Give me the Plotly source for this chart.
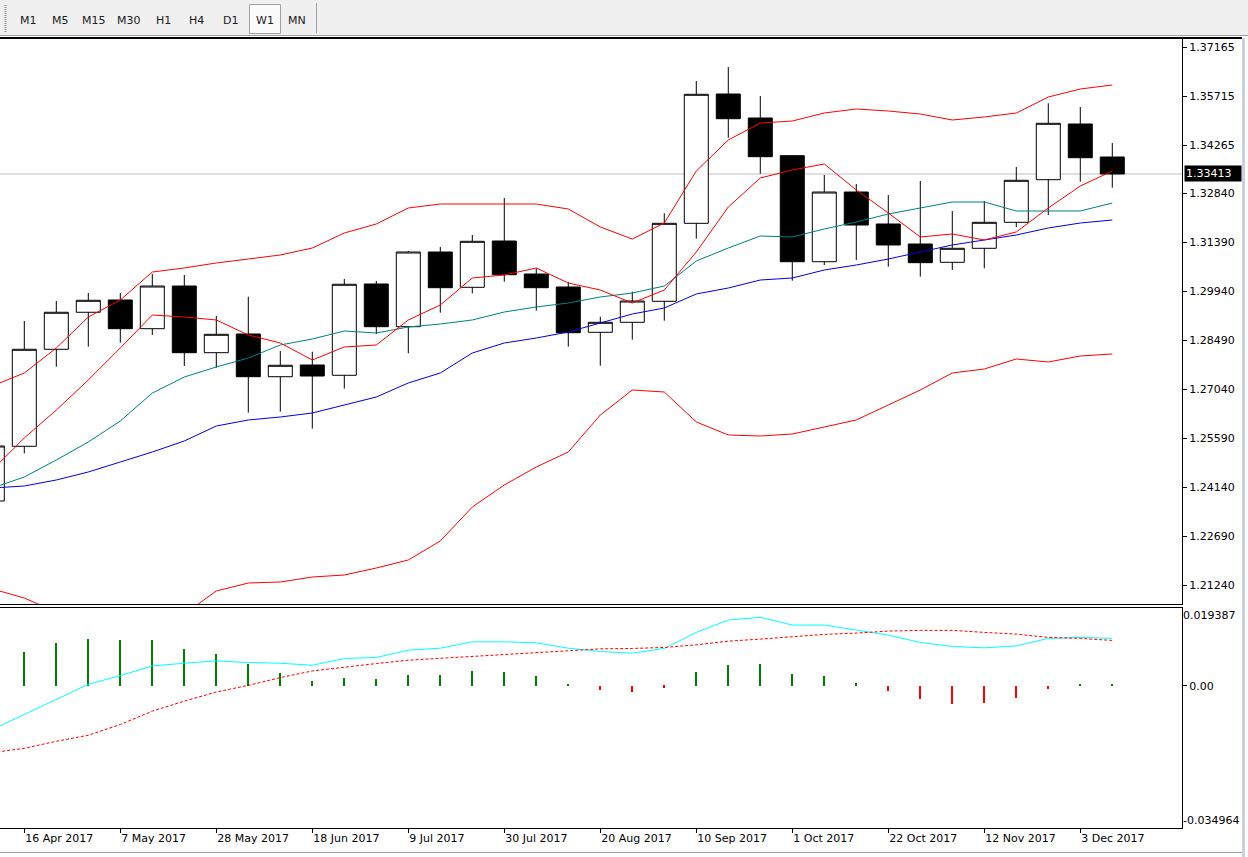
import plotly.graph_objects as go
import pandas as pd

# ---------------- data (weekly bars, 9 Apr 2017 .. 10 Dec 2017) ----------------
dates = ["2017-04-09", "2017-04-16", "2017-04-23", "2017-04-30", "2017-05-07", "2017-05-14",
         "2017-05-21", "2017-05-28", "2017-06-04", "2017-06-11", "2017-06-18", "2017-06-25",
         "2017-07-02", "2017-07-09", "2017-07-16", "2017-07-23", "2017-07-30", "2017-08-06",
         "2017-08-13", "2017-08-20", "2017-08-27", "2017-09-03", "2017-09-10", "2017-09-17",
         "2017-09-24", "2017-10-01", "2017-10-08", "2017-10-15", "2017-10-22", "2017-10-29",
         "2017-11-05", "2017-11-12", "2017-11-19", "2017-11-26", "2017-12-03", "2017-12-10"]

open_ = [1.23728, 1.25348, 1.28221, 1.29317, 1.29681, 1.28831, 1.30095, 1.28120, 1.28674, 1.27409,
         1.27756, 1.27451, 1.30155, 1.28890, 1.31102, 1.30057, 1.31428, 1.30451, 1.30066, 1.28724,
         1.29020, 1.29642, 1.31952, 1.35782, 1.35071, 1.33955, 1.30815, 1.32879, 1.31932, 1.31339,
         1.30797, 1.31212, 1.31982, 1.33244, 1.34893, 1.33916]
high = [1.25534, 1.29059, 1.29651, 1.29888, 1.29888, 1.30451, 1.30421, 1.29207, 1.29779, 1.28170,
        1.28150, 1.30303, 1.30244, 1.31132, 1.31251, 1.31606, 1.32702, 1.30620, 1.30214, 1.29186,
        1.29927, 1.32249, 1.36167, 1.36582, 1.35723, 1.33975, 1.33383, 1.33116, 1.32791, 1.33205,
        1.32317, 1.32613, 1.33620, 1.35507, 1.35397, 1.34331]
low = [1.23609, 1.25141, 1.27705, 1.28298, 1.28416, 1.28644, 1.27726, 1.27676, 1.26343, 1.26373,
       1.25869, 1.27054, 1.28674, 1.28102, 1.29305, 1.29879, 1.30223, 1.29364, 1.28298, 1.27735,
       1.28505, 1.29068, 1.31496, 1.34488, 1.33421, 1.30252, 1.30717, 1.30866, 1.30667, 1.30371,
       1.30569, 1.30620, 1.31843, 1.32198, 1.33185, 1.33007]
close = [1.25357, 1.28221, 1.29317, 1.29672, 1.28831, 1.30095, 1.28120, 1.28665, 1.27409, 1.27747,
         1.27430, 1.30146, 1.28890, 1.31102, 1.30045, 1.31419, 1.30430, 1.30045, 1.28712, 1.29020,
         1.29651, 1.31952, 1.35773, 1.35050, 1.33925, 1.30815, 1.32879, 1.31902, 1.31310, 1.30786,
         1.31212, 1.31982, 1.33226, 1.34914, 1.33895, 1.33413]

band_upper = [1.27134, 1.27519, 1.28259, 1.29177, 1.29681, 1.30510, 1.30629, 1.30777, 1.30895, 1.31014,
              1.31221, 1.31665, 1.31932, 1.32406, 1.32524, 1.32524, 1.32524, 1.32524, 1.32376, 1.31843,
              1.31487, 1.31961, 1.33501, 1.34420, 1.34923, 1.34982, 1.35219, 1.35338, 1.35278, 1.35190,
              1.35012, 1.35101, 1.35219, 1.35693, 1.35930, 1.36049]
band_lower = [1.21122, 1.20855, 1.20440, 1.20026, 1.20085, 1.19907, 1.20381, 1.21062, 1.21299, 1.21329,
              1.21477, 1.21536, 1.21743, 1.21980, 1.22543, 1.23550, 1.24202, 1.24735, 1.25179, 1.26275,
              1.27015, 1.26956, 1.26068, 1.25683, 1.25653, 1.25712, 1.25919, 1.26127, 1.26571, 1.27015,
              1.27519, 1.27637, 1.27933, 1.27845, 1.28022, 1.28082]
ma_fast = [1.24646, 1.25594, 1.26423, 1.27311, 1.28259, 1.29237, 1.29177, 1.29089, 1.28644, 1.28407,
           1.27904, 1.28289, 1.28348, 1.29089, 1.29533, 1.30332, 1.30421, 1.30629, 1.30184, 1.29977,
           1.29592, 1.29977, 1.31102, 1.32435, 1.33294, 1.33531, 1.33709, 1.32939, 1.32258, 1.31547,
           1.31636, 1.31458, 1.31695, 1.32406, 1.33057, 1.33501]
ma_mid = [1.24113, 1.24439, 1.24942, 1.25475, 1.26097, 1.26926, 1.27400, 1.27697, 1.27963, 1.28348,
          1.28526, 1.28763, 1.28703, 1.28881, 1.28970, 1.29089, 1.29325, 1.29474, 1.29592, 1.29770,
          1.29888, 1.30095, 1.30836, 1.31221, 1.31576, 1.31547, 1.31784, 1.31991, 1.32228, 1.32406,
          1.32583, 1.32583, 1.32317, 1.32317, 1.32317, 1.32554]
ma_slow = [1.24113, 1.24172, 1.24350, 1.24587, 1.24883, 1.25179, 1.25505, 1.25949, 1.26127, 1.26216,
           1.26334, 1.26571, 1.26808, 1.27223, 1.27519, 1.28111, 1.28407, 1.28555, 1.28733, 1.29000,
           1.29266, 1.29444, 1.29859, 1.30036, 1.30273, 1.30332, 1.30569, 1.30717, 1.30895, 1.31102,
           1.31310, 1.31458, 1.31606, 1.31813, 1.31961, 1.32050]

osc_hist = [0.0057, 0.00823, 0.01045, 0.01161, 0.01119, 0.01119, 0.00914, 0.00773, 0.00526, 0.00304,
            0.00131, 0.00205, 0.00156, 0.00272, 0.00272, 0.00353, 0.00329, 0.00247, 0.00057, -0.00099,
            -0.00148, -0.00049, 0.00346, 0.00519, 0.00544, 0.00296, 0.00247, 0.00074, -0.00124, -0.00321,
            -0.00445, -0.00420, -0.00296, -0.00074, 0.00025, 0.00049]
osc_main = [-0.01075, -0.00711, -0.00338, 0.00037, 0.00252, 0.00489, 0.00556, 0.00613, 0.00573, 0.00556,
            0.00506, 0.00672, 0.00697, 0.00877, 0.00926, 0.01082, 0.01082, 0.01057, 0.00926, 0.00845,
            0.00803, 0.00919, 0.01314, 0.01618, 0.01685, 0.01495, 0.01495, 0.01379, 0.01248, 0.01067,
            0.00968, 0.00934, 0.00983, 0.01166, 0.01191, 0.01166]
osc_signal = [-0.01643, -0.01537, -0.01364, -0.01215, -0.00951, -0.00623, -0.00376, -0.00153, 0.00012, 0.00203,
              0.00366, 0.00464, 0.00548, 0.0063, 0.00679, 0.00721, 0.00778, 0.0082, 0.0086, 0.00909,
              0.00919, 0.00944, 0.01008, 0.01099, 0.01149, 0.01206, 0.01265, 0.01297, 0.01346, 0.01364,
              0.01364, 0.01314, 0.01272, 0.01191, 0.01166, 0.01117]

last_price = 1.33413
price_ticks = [1.37165, 1.35715, 1.34265, 1.32840, 1.31390, 1.29940,
               1.28490, 1.27040, 1.25590, 1.24140, 1.22690, 1.21240]
price_tick_text = ["1.37165", "1.35715", "1.34265", "1.32840", "1.31390", "1.29940",
                   "1.28490", "1.27040", "1.25590", "1.24140", "1.22690", "1.21240"]
date_ticks = ["2017-04-16", "2017-05-07", "2017-05-28", "2017-06-18", "2017-07-09", "2017-07-30",
              "2017-08-20", "2017-09-10", "2017-10-01", "2017-10-22", "2017-11-12", "2017-12-03"]
date_tick_text = ["16 Apr 2017", "7 May 2017", "28 May 2017", "18 Jun 2017", "9 Jul 2017", "30 Jul 2017",
                  "20 Aug 2017", "10 Sep 2017", "1 Oct 2017", "22 Oct 2017", "12 Nov 2017", "3 Dec 2017"]
osc_max, osc_max_text = 0.019387, "0.019387"
osc_min, osc_min_text = -0.034964, "-0.034964"
osc_zero_text = "0.00"
timeframes = ["M1", "M5", "M15", "M30", "H1", "H4", "D1", "W1", "MN"]

# ---------------- geometry ----------------
W, H = 1248, 857
ML, MR, MT, MB = 0, 66, 38, 29
PW, PH = W - ML - MR, H - MT - MB


def pxx(px):
    return (px - ML) / PW


def pxy(py):
    return (H - MB - py) / PH


FONT = "DejaVu Sans"
first_label = pd.Timestamp("2017-04-16")
x_left = first_label - pd.Timedelta(days=5.316)
x_right = first_label + pd.Timedelta(days=253.25)
week_ms = 7 * 86400000
px_per_ms = 32.0 / week_ms

fig = go.Figure()

fig.add_trace(go.Candlestick(
    x=dates, open=open_, high=high, low=low, close=close,
    increasing=dict(line=dict(color="#000000", width=1), fillcolor="#ffffff"),
    decreasing=dict(line=dict(color="#000000", width=1), fillcolor="#000000"),
    whiskerwidth=0, xaxis="x", yaxis="y", showlegend=False, hoverinfo="skip"))


def add_line(vals, color, axis="y", dash=None):
    fig.add_trace(go.Scatter(x=dates, y=vals, mode="lines",
                             line=dict(color=color, width=1, dash=dash),
                             xaxis="x", yaxis=axis, showlegend=False, hoverinfo="skip"))


add_line(band_upper, "#ff0000")
add_line(band_lower, "#ff0000")
add_line(ma_slow, "#0000e6")
add_line(ma_mid, "#008080")
add_line(ma_fast, "#ff0000")

fig.add_trace(go.Bar(
    x=dates, y=osc_hist, width=2.2 / px_per_ms,
    marker=dict(color=["#008000" if v >= 0 else "#ff0000" for v in osc_hist], line=dict(width=0)),
    xaxis="x", yaxis="y2", showlegend=False, hoverinfo="skip"))
add_line(osc_main, "#00ffff", axis="y2")
add_line(osc_signal, "#ff0000", axis="y2", dash="3px,2px")

# placeholder (draws nothing) so the overlay label axes of the indicator window are rendered
for ax in ("y3", "y4"):
    fig.add_trace(go.Scatter(x=[dates[1]], y=[0.0], mode="lines", line=dict(width=0),
                             xaxis="x", yaxis=ax, showlegend=False, hoverinfo="skip"))

axis_font = dict(family=FONT, size=11, color="#000000")

top_bottom_py, bot_top_py = 605, 607

fig.update_layout(
    width=W, height=H,
    margin=dict(l=ML, r=MR, t=MT, b=MB, pad=0),
    paper_bgcolor="#ffffff", plot_bgcolor="#ffffff",
    showlegend=False, hovermode=False,
    boxgap=0.25, boxgroupgap=0.0, bargap=0,
    font=axis_font,
    xaxis=dict(type="date", range=[x_left, x_right], anchor="y2",
               showgrid=False, zeroline=False, showline=True, linecolor="#000000", linewidth=1,
               ticks="outside", ticklen=4, tickcolor="#000000",
               tickvals=date_ticks, ticktext=date_tick_text,
               ticklabelposition="outside right", tickfont=axis_font,
               rangeslider=dict(visible=False), fixedrange=True),
    yaxis=dict(domain=[pxy(top_bottom_py), 1], range=[1.206476, 1.374405], side="right", anchor="x",
               showgrid=False, zeroline=False, showline=True, linecolor="#000000", linewidth=1,
               ticks="outside", ticklen=4, tickcolor="#000000",
               tickvals=price_ticks, ticktext=price_tick_text, tickfont=axis_font, fixedrange=True),
    yaxis2=dict(domain=[0, pxy(bot_top_py)], range=[osc_min, osc_max], side="right", anchor="x",
                showgrid=False, zeroline=False, showline=True, linecolor="#000000", linewidth=1,
                ticks="outside", ticklen=4, tickcolor="#000000",
                tickvals=[0.0], ticktext=[osc_zero_text], tickfont=axis_font, fixedrange=True),
    yaxis3=dict(overlaying="y2", range=[osc_min, osc_max], side="right", anchor="x",
                showgrid=False, zeroline=False, showline=False, ticks="",
                tickvals=[osc_max], ticktext=[osc_max_text], ticklabelposition="outside bottom",
                tickfont=axis_font, fixedrange=True),
    yaxis4=dict(overlaying="y2", range=[osc_min, osc_max], side="right", anchor="x",
                showgrid=False, zeroline=False, showline=False, ticks="",
                tickvals=[osc_min], ticktext=[osc_min_text], ticklabelposition="outside top",
                tickfont=axis_font, fixedrange=True),
)

shapes = []
# toolbar background
shapes.append(dict(type="rect", xref="paper", yref="paper", x0=pxx(0), x1=pxx(W), y0=pxy(35), y1=pxy(0),
                   fillcolor="#f0f0f0", line=dict(width=0), layer="below"))
shapes.append(dict(type="line", xref="paper", yref="paper", x0=pxx(0), x1=pxx(W), y0=pxy(35.5), y1=pxy(35.5),
                   line=dict(color="#a0a0a0", width=1)))
# pressed W1 button
shapes.append(dict(type="rect", xref="paper", yref="paper", x0=pxx(249.5), x1=pxx(280.5), y0=pxy(33.5), y1=pxy(4.5),
                   fillcolor="#fbfbfb", line=dict(color="#a0a0a0", width=1)))
# toolbar separator + grip
shapes.append(dict(type="line", xref="paper", yref="paper", x0=pxx(316.5), x1=pxx(316.5), y0=pxy(33), y1=pxy(3),
                   line=dict(color="#a0a0a0", width=1)))
shapes.append(dict(type="line", xref="paper", yref="paper", x0=pxx(5.5), x1=pxx(5.5), y0=pxy(32), y1=pxy(5),
                   line=dict(color="#909090", width=2, dash="1px,1px")))
# chart frame
shapes.append(dict(type="line", xref="paper", yref="paper", x0=pxx(0), x1=pxx(1242), y0=pxy(38), y1=pxy(38),
                   line=dict(color="#000000", width=2)))
shapes.append(dict(type="line", xref="paper", yref="paper", x0=pxx(0), x1=pxx(1182), y0=pxy(604.5), y1=pxy(604.5),
                   line=dict(color="#000000", width=1)))
shapes.append(dict(type="line", xref="paper", yref="paper", x0=pxx(0), x1=pxx(1182), y0=pxy(607.5), y1=pxy(607.5),
                   line=dict(color="#000000", width=1)))
# window edges
shapes.append(dict(type="rect", xref="paper", yref="paper", x0=pxx(1242), x1=pxx(1245), y0=pxy(H), y1=pxy(38),
                   fillcolor="#c9d1de", line=dict(width=0)))
shapes.append(dict(type="line", xref="paper", yref="paper", x0=pxx(0), x1=pxx(1242), y0=pxy(852.5), y1=pxy(852.5),
                   line=dict(color="#a0a0a0", width=1)))
# last price line
shapes.append(dict(type="line", xref="paper", yref="y", x0=0, x1=1, y0=last_price, y1=last_price,
                   line=dict(color="#c0c0c0", width=1), layer="below"))
fig.update_layout(shapes=shapes)

annotations = []
tf_centers = [28.3, 60, 94, 129, 163, 196.7, 230, 265, 296.7]
for name, cx in zip(timeframes, tf_centers):
    annotations.append(dict(text=name, xref="paper", yref="paper", x=pxx(cx), y=pxy(20.5),
                            xanchor="center", yanchor="middle", showarrow=False,
                            font=dict(family=FONT, size=11, color="#202020")))
annotations.append(dict(text=f"{last_price:.5f}", xref="paper", yref="y", x=pxx(1183.5), y=last_price,
                        xanchor="left", yanchor="middle", showarrow=False, align="left",
                        bgcolor="#000000", borderpad=1, width=54,
                        font=dict(family=FONT, size=11, color="#ffffff")))
fig.update_layout(annotations=annotations)

fig.write_html("out.html")
